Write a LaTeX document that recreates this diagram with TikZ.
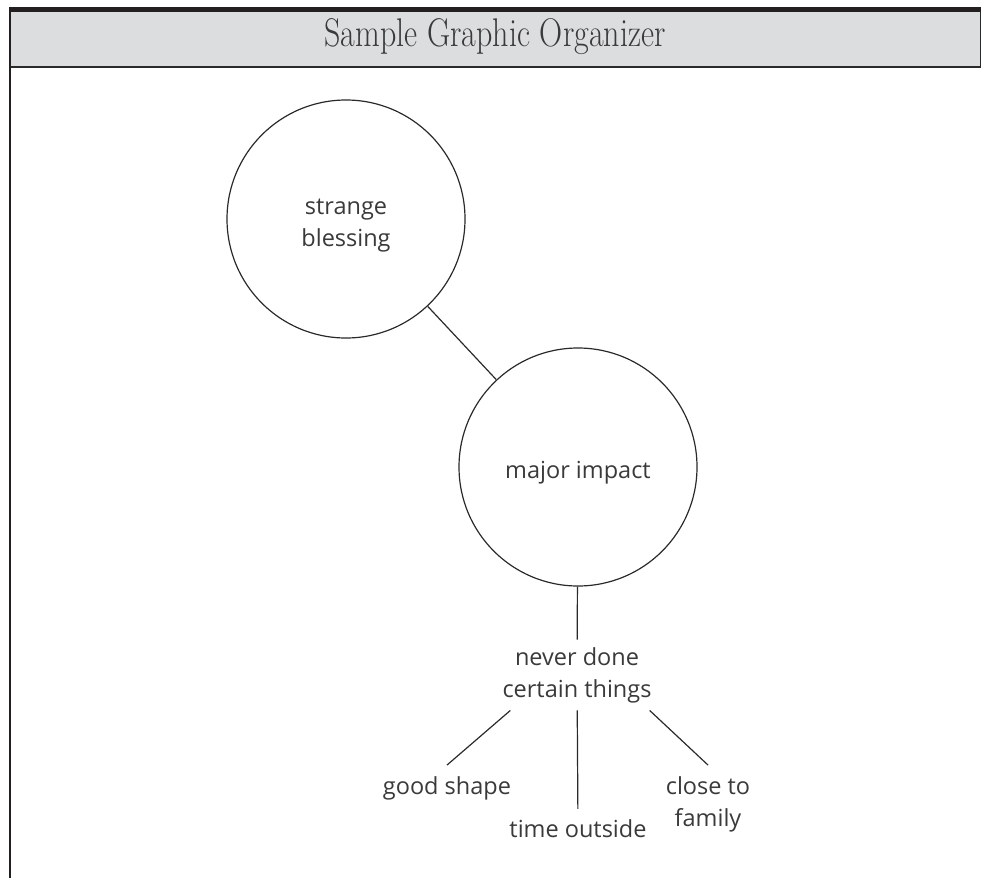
\documentclass[tikz,border=0pt]{standalone}
\usepackage{fontspec}
\newfontfamily\handfont{Open Sans}
\definecolor{headgray}{HTML}{DCDDDF}
\definecolor{barblack}{HTML}{231F20}
\definecolor{linegray}{HTML}{2A2A2A}
\definecolor{textgray}{HTML}{3A3A3A}

\begin{document}
\begin{tikzpicture}[x=1pt,y=-1pt]
\useasboundingbox (0,0) rectangle (981,878);

\coordinate (S_1) at (346, 219);
\coordinate (M_1) at (578, 467);
\coordinate (N_1) at (577, 675);
\coordinate (G_1) at (447, 788);
\coordinate (T_1) at (578, 829);
\coordinate (F_1) at (708, 804);


\fill[headgray] (10, 12) rectangle (981, 66);
\fill[barblack] (10, 6.5) rectangle (981, 12);
\draw[line width=2pt, linegray] (10, 66.8) -- (981, 66.8);
\draw[line width=1.4pt, barblack] (10, 6.5) -- (10, 878);
\draw[line width=1.4pt, linegray] (980.3, 12) -- (980.3, 66);
\node[text=textgray] (title) at (495, 36.5) {\scalebox{0.8}[1]{\fontsize{40}{46}\selectfont Sample Graphic Organizer}};


\tikzset{CircleStyle/.style = {
 shape = circle,
 draw = linegray,
 line width = 1.2pt,
 minimum size = 238pt,
 inner sep = 0pt,
 text = textgray,
 align = center,
 font = \handfont\fontsize{23.5}{32}\selectfont} }

\tikzset{WordStyle/.style = {
 text = textgray,
 align = center,
 inner sep = 11pt,
 font = \handfont\fontsize{23.5}{32}\selectfont} }

\node[CircleStyle] (strange) at (S_1) {\rule{0pt}{29pt}strange\\blessing};
\node[CircleStyle] (major) at (M_1) {\rule{0pt}{29pt}major impact};
\node[WordStyle, inner ysep=7.5pt] (never) at (N_1) {never done\\certain things};
\node[WordStyle] (good) at (G_1) {good shape};
\node[WordStyle] (time) at (T_1) {time outside};
\node[WordStyle] (close) at (F_1) {close to\\family};


\tikzset{EdgeStyle/.style = {line width=1.2pt, draw=linegray} }

\draw[EdgeStyle] (strange) -- (major);
\draw[EdgeStyle] (major) -- (never);
\draw[EdgeStyle] (never.-152) -- (good.north);
\draw[EdgeStyle] (never) -- (time);
\draw[EdgeStyle] (never.-26) -- (close.north);

\end{tikzpicture}
\end{document}
